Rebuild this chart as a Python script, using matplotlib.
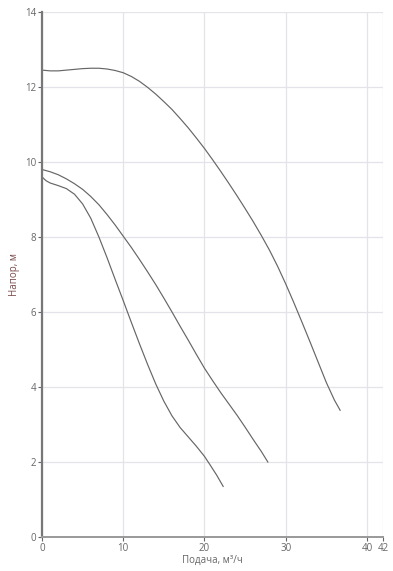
import matplotlib.pyplot as plt

plt.rcParams['font.family'] = ['Open Sans', 'DejaVu Sans']

# curve data (flow m3/h, head m)
top_q = [0, 1, 2, 3, 4, 5, 6, 7, 8, 9, 10, 11, 12, 13, 14, 15, 16, 17, 18, 19, 20,
         21, 22, 23, 24, 25, 26, 27, 28, 29, 30, 31, 32, 33, 34, 35, 36, 36.7]
top_h = [12.45, 12.43, 12.43, 12.45, 12.47, 12.49, 12.5, 12.5, 12.48, 12.44, 12.38,
         12.28, 12.15, 11.99, 11.81, 11.61, 11.4, 11.16, 10.91, 10.64, 10.36, 10.06,
         9.75, 9.43, 9.1, 8.76, 8.41, 8.04, 7.65, 7.22, 6.75, 6.25, 5.73, 5.2, 4.66,
         4.12, 3.65, 3.38]

mid_q = [0, 1, 2, 3, 4, 5, 6, 7, 8, 9, 10, 11, 12, 13, 14, 15, 16, 17, 18, 19, 20,
         21, 22, 23, 24, 25, 26, 27, 27.8]
mid_h = [9.8, 9.74, 9.66, 9.55, 9.42, 9.27, 9.08, 8.86, 8.6, 8.32, 8.02, 7.72, 7.4,
         7.07, 6.73, 6.37, 6.0, 5.62, 5.25, 4.87, 4.5, 4.17, 3.85, 3.55, 3.25, 2.93,
         2.6, 2.28, 2.0]

low_q = [0, 0.5, 1, 2, 3, 4, 5, 6, 7, 8, 9, 10, 11, 12, 13, 14, 15, 16, 17, 18, 19,
         20, 20.7, 21.5, 22.3]
low_h = [9.6, 9.5, 9.44, 9.37, 9.29, 9.14, 8.88, 8.5, 8.0, 7.45, 6.87, 6.3, 5.72,
         5.15, 4.6, 4.08, 3.62, 3.23, 2.92, 2.67, 2.42, 2.15, 1.92, 1.65, 1.35]

x_ticks = [0, 10, 20, 30, 40, 42]
y_ticks = [0, 2, 4, 6, 8, 10, 12, 14]

fig = plt.figure(figsize=(3.93, 5.71), dpi=100)
ax = fig.add_axes([0.107, 0.0595, 0.868, 0.9195])

for q, h in [(top_q, top_h), (mid_q, mid_h), (low_q, low_h)]:
    ax.plot(q, h, color='#666666', lw=0.85)

ax.set_xlim(0, 42)
ax.set_ylim(0, 14)
ax.set_xticks(x_ticks)
ax.set_yticks(y_ticks)
ax.grid(True, color='#e3e3ea', lw=0.9)
ax.set_axisbelow(True)

for s in ['top', 'right']:
    ax.spines[s].set_visible(False)
ax.spines['left'].set_color('#777777')
ax.spines['left'].set_linewidth(1.6)
ax.spines['bottom'].set_color('#999999')
ax.spines['bottom'].set_linewidth(1.4)

ax.tick_params(axis='both', labelsize=7, colors='#666666', length=3, width=0.8, pad=1)
ax.set_xlabel('Подача, м³/ч', fontsize=7, color='#666666', labelpad=1)
ax.set_ylabel('Напор, м', fontsize=7, color='#7a4a4a', labelpad=4)

fig.savefig('out.png', dpi=100)
